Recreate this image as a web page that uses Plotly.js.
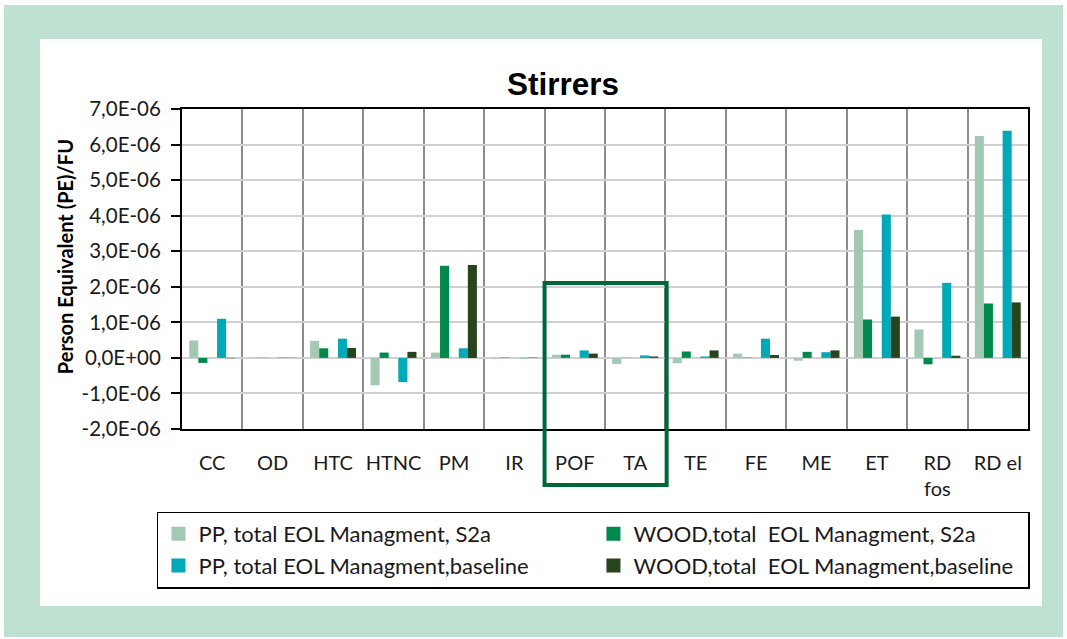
<!DOCTYPE html>
<html>
<head>
<meta charset="utf-8">
<script src="https://cdn.plot.ly/plotly-3.0.1.min.js"></script>
<style>
  html, body { margin:0; padding:0; background:#ffffff; width:1067px; height:639px; overflow:hidden; }
  #frame { position:absolute; left:4px; top:5px; width:1059px; height:632px; background:#BFE1D2; }
  #chart { position:absolute; left:40px; top:39px; width:1002px; height:567px; background:#ffffff; }
</style>
</head>
<body>
<div id="frame"></div>
<div id="chart"></div>
<script>
const categories = ["CC","OD","HTC","HTNC","PM","IR","POF","TA","TE","FE","ME","ET","RD<br>fos","RD el"];
const ppS2a      = [0.49e-6, 0.01e-6, 0.48e-6, -0.77e-6, 0.15e-6, -0.02e-6, 0.09e-6, -0.17e-6, -0.15e-6, 0.12e-6, -0.08e-6, 3.60e-6, 0.80e-6, 6.24e-6];
const woodS2a    = [-0.14e-6, 0.005e-6, 0.27e-6, 0.15e-6, 2.59e-6, 0.01e-6, 0.09e-6, 0.005e-6, 0.18e-6, 0.01e-6, 0.17e-6, 1.08e-6, -0.18e-6, 1.53e-6];
const ppBase     = [1.10e-6, 0.01e-6, 0.54e-6, -0.68e-6, 0.27e-6, -0.01e-6, 0.21e-6, 0.07e-6, 0.04e-6, 0.54e-6, 0.16e-6, 4.03e-6, 2.11e-6, 6.39e-6];
const woodBase   = [-0.01e-6, 0.005e-6, 0.28e-6, 0.17e-6, 2.61e-6, 0.01e-6, 0.12e-6, 0.04e-6, 0.21e-6, 0.08e-6, 0.21e-6, 1.16e-6, 0.06e-6, 1.56e-6];
const seriesNames = ["PP, total EOL Managment, S2a", "WOOD,total  EOL Managment, S2a", "PP, total EOL Managment,baseline", "WOOD,total  EOL Managment,baseline"];
const yTickVals  = [-2e-6, -1e-6, 0, 1e-6, 2e-6, 3e-6, 4e-6, 5e-6, 6e-6, 7e-6];
const yTickText  = ["-2,0E-06","-1,0E-06","0,0E+00","1,0E-06","2,0E-06","3,0E-06","4,0E-06","5,0E-06","6,0E-06","7,0E-06"];

const colors  = ["#A3C9B5", "#00894C", "#00A9B7", "#27441D"];
const offsets = [-0.38, -0.23, 0.08, 0.23];
const values  = [ppS2a, woodS2a, ppBase, woodBase];

const font = "Lato, 'Open Sans', sans-serif";

const barTraces = values.map((v, i) => ({
  type: "bar",
  x: categories,
  y: v,
  name: seriesNames[i],
  showlegend: false,
  marker: { color: colors[i], line: { width: 0 } },
  width: 0.15,
  offset: offsets[i],
  hoverinfo: "none"
}));

// legend proxies (square swatches like the original legend)
const legendTraces = values.map((v, i) => ({
  type: "scatter",
  mode: "markers",
  x: [categories[0]],
  y: [null],
  name: seriesNames[i].replace(/ /g, "\u00a0"),
  marker: { color: colors[i], symbol: "square", size: 14 },
  showlegend: true,
  hoverinfo: "none"
}));

const layout = {
  width: 1002,
  height: 567,
  paper_bgcolor: "#ffffff",
  plot_bgcolor: "#ffffff",
  margin: { l: 142, r: 14, t: 70, b: 177, pad: 0 },
  barmode: "overlay",
  showlegend: true,
  title: {
    text: "<b>Stirrers</b>",
    font: { family: "'Liberation Sans', Arial, sans-serif", size: 31.5, color: "#000000" },
    xref: "container", x: 0.522, xanchor: "center",
    yref: "container", y: 0.921, yanchor: "middle"
  },
  xaxis: {
    type: "category",
    range: [-0.5, 13.5],
    tickson: "boundaries",
    ticks: "",
    tickangle: 0,
    showgrid: true,
    gridcolor: "#8c8c8c",
    gridwidth: 2,
    showline: true,
    linecolor: "#000000",
    linewidth: 2,
    mirror: true,
    tickfont: { family: font, size: 20, color: "#1a1a1a" },
    ticklabelstandoff: 15,
    fixedrange: true
  },
  yaxis: {
    range: [-2e-6, 7e-6],
    tickvals: yTickVals,
    ticktext: yTickText,
    ticks: "outside",
    ticklen: 9,
    tickwidth: 2,
    tickcolor: "#000000",
    showgrid: true,
    gridcolor: "#d0d0d0",
    gridwidth: 2,
    zeroline: false,
    showline: true,
    linecolor: "#000000",
    linewidth: 2,
    mirror: true,
    tickfont: { family: font, size: 20.5, color: "#1a1a1a" },
    ticklabelstandoff: 6,
    fixedrange: true
  },
  legend: {
    orientation: "h",
    x: -0.0296, xanchor: "left",
    y: -0.258, yanchor: "top",
    bordercolor: "#000000",
    borderwidth: 1.5,
    bgcolor: "#ffffff",
    font: { family: font, size: 22, color: "#1a1a1a" },
    entrywidth: 390,
    entrywidthmode: "pixels",
    traceorder: "normal"
  },
  annotations: [{
    text: "<b>Person Equivalent (PE)/FU</b>",
    textangle: -90,
    xref: "paper", x: -0.1383, xanchor: "center",
    yref: "paper", y: 0.54, yanchor: "middle",
    showarrow: false,
    font: { family: font, size: 20, color: "#000000" }
  }],
  shapes: [{
    type: "rect",
    xref: "x", x0: 5.5, x1: 7.52,
    yref: "paper", y0: -0.175, y1: 0.456,
    line: { color: "#00673A", width: 4 },
    fillcolor: "rgba(0,0,0,0)",
    layer: "above"
  }]
};

Plotly.newPlot("chart", barTraces.concat(legendTraces), layout, { staticPlot: true, displayModeBar: false });
</script>
</body>
</html>
